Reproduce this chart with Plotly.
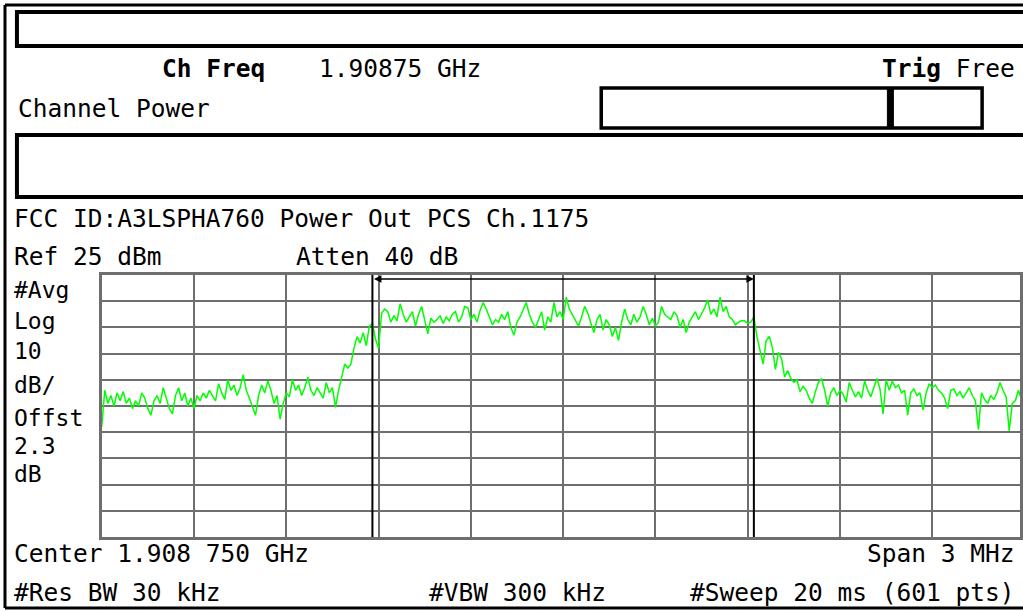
import numpy as np
import plotly.graph_objects as go

W, H = 1023, 612
FONT = "DejaVu Sans Mono"

# analyzer settings shown on screen
ch_freq = "1.90875 GHz"
ref_dbm = 25
db_per_div = 10
span_mhz = 3.0
chan_edges_mhz = [-0.62, 0.62]   # integration bandwidth markers

# trace in dBm left to right (601-pt sweep, thinned)
lower_skirt = [
    -33, -19, -24, -21, -25, -20, -23, -19.5, -24, -22, -26, -23, -25, -20, -22, -26,
    -28.5, -23, -21, -24, -18, -22, -26, -28, -21, -18, -23, -20, -25, -22, -26, -21,
    -23, -20, -22, -19, -21, -23, -16.5, -20, -22.5, -15, -19, -17, -21, -18, -13, -19,
    -22, -25, -28.5, -21, -17, -20, -15.5, -19, -24, -21, -30, -24, -20, -21.5, -15, -19,
    -17, -21, -18, -14, -19, -21, -18, -20, -22, -16, -20, -18, -25.5, -19,
]
rise = [-14, -9, -10.5, -9, -3, 1.5, -1, 3, -2, 5.5, 6.5, 0.5, -3]
in_band = [
    10.5, 12, 11, 7, 9.5, 7.5, 14, 10, 7, 9, 11, 5.5, 10, 13, 8, 2.5,
    8.5, 7, 8, 9.5, 6.5, 9, 7.5, 10, 11, 7, 9, 13, 12.5, 8, 10, 7,
    11.5, 14.5, 12, 9, 6, 8, 7, 10, 8, 11, 5, 2, 7, 9, 12, 14.5,
    10, 7, 5, 8, 11, 4, 9, 7, 14.5, 9, 11, 8, 16.5, 12, 10, 8,
    5.5, 9, 13, 10.5, 7, 3, 8, 10, 4, 8, 6, 1.5, 5, 0, 7, 12,
    8, 6, 10, 7, 9, 13, 10, 6, 8.5, 5.5, 7, 13, 10, 9, 8, 11,
    9.5, 5, 8, 3, 7, 9, 11, 8, 10, 12.5, 15.5, 10, 12, 9, 16.5, 11,
    13, 9, 8, 6, 7, 7.5, 7.5, 6.5, 7, 9,
]
fall = [1.5, -4, -9, 0, 1.5, -2.5, -11, -4.5, -7, -14, -11.5, -14.5, -16, -15, -19.5, -17.5]
upper_skirt = [
    -19, -22, -24, -19.5, -16, -14.5, -19, -25, -20, -18, -21, -19, -20.5, -23.5, -16, -19,
    -21.5, -19.5, -22, -15.5, -19, -21.5, -18, -14.5, -18.5, -28, -15, -19, -15.5, -18, -17, -20,
    -19, -28.5, -20, -18.5, -21, -20, -26.5, -20, -16.5, -18, -17, -19, -20, -22, -26, -19,
    -18.5, -21, -19.5, -22, -20, -18, -21, -23, -34, -20, -22.5, -24, -21, -22.5, -20, -16,
    -19, -21.5, -34.5, -24, -23, -19, -22.5, -21,
]
trace_dbm = lower_skirt + rise + in_band + fall + upper_skirt
freq_mhz = np.linspace(-span_mhz / 2, span_mhz / 2, len(trace_dbm))

# left-hand annotation column
side_labels = ["#Avg", "Log", "10", "dB/", "Offst", "2.3", "dB"]


def fx(x):
    return x / W


def fy(y):
    return 1 - y / H


fig = go.Figure(go.Scatter(
    x=freq_mhz, y=trace_dbm, mode="lines",
    line=dict(color="#00ff00", width=1.5), hoverinfo="skip",
))

# ---- screen furniture (boxes, frame) ----
shapes = []


def box(x0, y0, x1, y1, w, fill=None):
    shapes.append(dict(type="rect", xref="paper", yref="paper",
                       x0=fx(x0), x1=fx(x1), y0=fy(y0), y1=fy(y1),
                       line=dict(color="black", width=w),
                       fillcolor=fill or "rgba(0,0,0,0)", layer="above"))


def hline(x0, x1, y, w, color="black"):
    shapes.append(dict(type="line", xref="paper", yref="paper",
                       x0=fx(x0), x1=fx(x1), y0=fy(y), y1=fy(y),
                       line=dict(color=color, width=w)))


def vline(x, y0, y1, w, color="black"):
    shapes.append(dict(type="line", xref="paper", yref="paper",
                       x0=fx(x), x1=fx(x), y0=fy(y0), y1=fy(y1),
                       line=dict(color=color, width=w)))


vline(5, 5, 608, 3)
hline(5, W + 5, 5, 3)
hline(5, W + 5, 608, 3)
box(17, 12, W + 10, 46, 4)
box(603, 88, 985, 128, 3.5)
box(890, 88, 896, 128, 1, fill="black")
box(17, 135, W + 10, 197, 4)

# channel integration markers
for e in chan_edges_mhz:
    shapes.append(dict(type="line", xref="x", yref="paper", x0=e, x1=e,
                       y0=fy(537), y1=fy(275), line=dict(color="black", width=2)))

# ---- text ----
ann = []


def label(text, x, y, anchor="left", size=24.5):
    ann.append(dict(text=text, x=fx(x), y=fy(y), xref="paper", yref="paper",
                    xanchor=anchor, yanchor="middle", showarrow=False,
                    font=dict(family=FONT, size=size, color="black")))


label("<b>Ch Freq</b>", 160, 68)
label(ch_freq, 318, 68)
label("<b>Trig</b> Free", 1020, 68, anchor="right")
label("Channel Power", 16, 108)
label("FCC ID:A3LSPHA760 Power Out PCS Ch.1175", 12, 218)
label(f"Ref {ref_dbm} dBm", 12, 256)
label("Atten 40 dB", 295, 256)
for txt, y in zip(side_labels, [290, 321, 351, 385, 418, 446, 474]):
    label(txt, 12, y, size=23)
label("Center 1.908 750 GHz", 12, 553)
label(f"Span {span_mhz:g} MHz", 1020, 553, anchor="right")
label("#Res BW 30 kHz", 12, 592)
label("#VBW 300 kHz", 428, 592)
label("#Sweep 20 ms (601 pts)", 1020, 592, anchor="right")

# double-headed arrow between the channel edges
ann.append(dict(x=chan_edges_mhz[1], y=ref_dbm - 1.5, ax=chan_edges_mhz[0], ay=ref_dbm - 1.5,
                xref="x", yref="y", axref="x", ayref="y", text="", showarrow=True,
                arrowside="end+start", arrowhead=2, arrowsize=1, arrowwidth=1.5,
                arrowcolor="black"))

grid = "#6e6e6e"
px_per_div = 92.56
x_hi = -span_mhz / 2 + (W - 102) / px_per_div * (span_mhz / 10)

fig.update_layout(
    width=W, height=H,
    margin=dict(l=0, r=0, t=0, b=0),
    paper_bgcolor="white", plot_bgcolor="white",
    showlegend=False,
    shapes=shapes, annotations=ann,
    xaxis=dict(domain=[fx(102), 1], range=[-span_mhz / 2, x_hi],
               tick0=-span_mhz / 2, dtick=span_mhz / 10,
               showgrid=True, gridcolor=grid, gridwidth=2,
               showticklabels=False, ticks="", zeroline=False,
               showline=True, linecolor=grid, linewidth=3, mirror=True),
    yaxis=dict(domain=[fy(537), fy(275)],
               range=[ref_dbm - 10 * db_per_div, ref_dbm],
               tick0=ref_dbm, dtick=db_per_div,
               showgrid=True, gridcolor=grid, gridwidth=2,
               showticklabels=False, ticks="", zeroline=False,
               showline=True, linecolor=grid, linewidth=3, mirror=True),
)

# the page's default body margin would shift the screen by 8px
fig.write_html("out.html", config={"displayModeBar": False},
               post_script="document.body.style.margin='0';document.body.style.overflow='hidden';")
